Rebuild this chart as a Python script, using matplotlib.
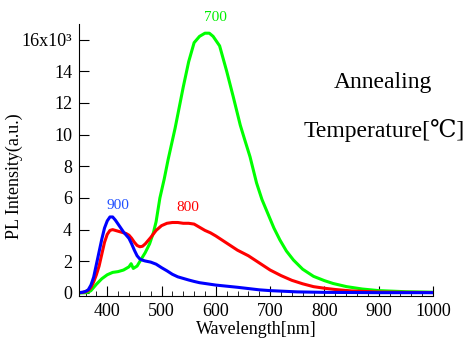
import matplotlib
matplotlib.use('Agg')
import matplotlib.pyplot as plt
from matplotlib.ticker import MultipleLocator, FuncFormatter

plt.rcParams['font.family'] = ['Liberation Serif', 'DejaVu Serif', 'Noto Sans CJK JP']

# PL spectra (intensity in units of 10^3)
wl_900 = [348, 355, 360, 365, 370, 375, 380, 385, 390, 395, 400, 405, 410, 415, 420,
          425, 430, 435, 440, 445, 450, 455, 460, 465, 470, 480, 490, 500, 510, 520,
          530, 540, 550, 560, 570, 580, 600, 620, 640, 660, 680, 700, 750, 800, 850,
          900, 1000]
pl_900 = [0.02, 0.05, 0.1, 0.2, 0.5, 1.0, 1.8, 2.6, 3.4, 4.1, 4.55, 4.8, 4.8, 4.6, 4.35,
          4.1, 3.85, 3.65, 3.45, 3.1, 2.7, 2.35, 2.15, 2.07, 2.02, 1.95, 1.82, 1.6, 1.4, 1.18,
          1.02, 0.92, 0.82, 0.73, 0.65, 0.6, 0.5, 0.43, 0.36, 0.28, 0.2, 0.15, 0.07, 0.04, 0.03,
          0.02, 0.02]

wl_800 = [348, 355, 360, 365, 370, 375, 380, 385, 390, 395, 400, 405, 410, 415, 420,
          425, 430, 435, 440, 445, 450, 455, 460, 465, 470, 480, 490, 500, 510, 520,
          530, 540, 550, 560, 570, 580, 590, 600, 620, 640, 660, 680, 700, 720, 740,
          760, 780, 800, 820, 850, 900, 950, 1000]
pl_800 = [0.02, 0.04, 0.08, 0.15, 0.35, 0.7, 1.15, 1.7, 2.45, 3.2, 3.7, 3.95, 4.0, 3.95, 3.9,
          3.85, 3.8, 3.75, 3.65, 3.45, 3.2, 3.0, 2.92, 2.95, 3.1, 3.5, 3.95, 4.25, 4.4, 4.45,
          4.45, 4.4, 4.4, 4.35, 4.15, 3.95, 3.8, 3.6, 3.15, 2.7, 2.35, 1.9, 1.45, 1.1, 0.8,
          0.58, 0.4, 0.3, 0.22, 0.13, 0.06, 0.04, 0.03]

wl_700 = [348, 360, 365, 370, 375, 380, 390, 400, 410, 420, 430, 440, 444, 448, 455,
          462, 470, 478, 485, 490, 497, 505, 512, 525, 540, 550, 560, 570, 580, 588,
          595, 607, 620, 632, 645, 653, 663, 675, 685, 696, 707, 718, 730, 743, 760,
          780, 800, 816, 841, 870, 900, 950, 1000]
pl_700 = [0.0, 0.02, 0.05, 0.15, 0.35, 0.55, 0.9, 1.15, 1.3, 1.35, 1.45, 1.65, 1.85, 1.55, 1.7,
          2.1, 2.55, 3.1, 3.8, 4.5, 6.0, 7.2, 8.4, 10.4, 13.0, 14.6, 15.8, 16.2, 16.4, 16.4,
          16.2, 15.6, 14.0, 12.4, 10.6, 9.7, 8.6, 6.95, 5.9, 5.0, 4.1, 3.35, 2.65, 2.08, 1.5,
          1.05, 0.78, 0.6, 0.4, 0.25, 0.15, 0.08, 0.05]

fig = plt.figure(figsize=(4.68, 3.4), dpi=100)
ax = fig.add_axes([0.1688, 0.1294, 0.7564, 0.80])

ax.plot(wl_700, pl_700, color='#00ff00', lw=2.2)
ax.plot(wl_800, pl_800, color='#ff0000', lw=2.2)
ax.plot(wl_900, pl_900, color='#0000ff', lw=2.2)

ax.set_xlim(348, 1000)
ax.set_ylim(-0.19, 16.98)

ax.spines['top'].set_visible(False)
ax.spines['right'].set_visible(False)
ax.xaxis.set_major_locator(MultipleLocator(100))
ax.xaxis.set_minor_locator(MultipleLocator(20))
ax.yaxis.set_major_locator(MultipleLocator(2))
ax.tick_params(which='major', direction='in', length=7, labelsize=13, pad=5)
ax.tick_params(which='minor', direction='in', length=3.5)
ax.yaxis.set_major_formatter(FuncFormatter(
    lambda v, p: '16x10\u00b3' if round(v) == 16 else '%d' % round(v)))

ax.set_xlabel('Wavelength[nm]', fontsize=13, labelpad=1)
ax.set_ylabel('PL Intensity(a.u.)', fontsize=13)
ax.yaxis.set_label_coords(-0.158, 0.44)

ax.text(420, 5.5, '900', color='#2050ff', fontsize=11, ha='center', va='center')
ax.text(548, 5.4, '800', color='#ff0000', fontsize=11, ha='center', va='center')
ax.text(600, 17.4, '700', color='#00ee00', fontsize=11, ha='center', va='center',
        clip_on=False)

fig.text(0.818, 0.756, 'Annealing', fontsize=17, ha='center', va='center')
fig.text(0.82, 0.617, 'Temperature[\u2103]', fontsize=17, ha='center', va='center')

fig.savefig('out.png', dpi=100)
